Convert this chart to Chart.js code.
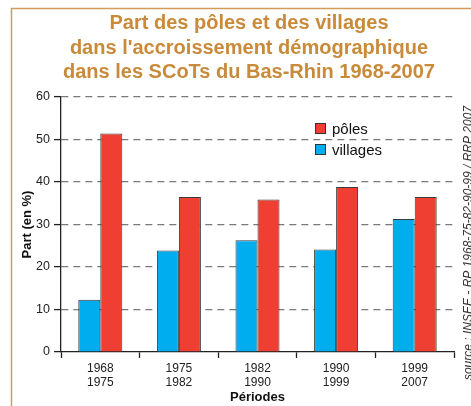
<!DOCTYPE html>
<html><head><meta charset="utf-8">
<script src="https://cdn.jsdelivr.net/npm/chart.js@4/dist/chart.umd.min.js"></script>
<style>html,body{margin:0;padding:0;background:#fff;}#wrap{position:relative;width:471px;height:406px;}</style>
</head><body><div id="wrap"><canvas id="c" width="471" height="406"></canvas></div>
<script>
const categories = [['1968','1975'],['1975','1982'],['1982','1990'],['1990','1999'],['1999','2007']];
const villages = [12.3, 23.9, 26.3, 24.1, 31.3];
const poles = [51.4, 36.5, 35.9, 38.8, 36.5];
const yTicks = [0, 10, 20, 30, 40, 50, 60];
const seriesNames = ['villages', 'pôles'];
const titleLines = ['Part des pôles et des villages', "dans l'accroissement démographique", 'dans les SCoTs du Bas-Rhin 1968-2007'];
const yTitle = 'Part (en %)';
const xTitle = 'Périodes';
const sourceText = 'source : INSEE - RP 1968-75-82-90-99 / RRP 2007';

const FONT = "'Liberation Sans', Arial, Helvetica, sans-serif";
const TITLE_COLOR = '#c98a3a';

const decor = {
  id: 'decor',
  beforeDraw(chart) {
    const ctx = chart.ctx;
    ctx.save();
    ctx.fillStyle = '#fff';
    ctx.fillRect(0, 0, chart.width, chart.height);
    ctx.strokeStyle = '#d29b57';
    ctx.lineWidth = 1.5;
    ctx.beginPath();
    ctx.moveTo(11.5, chart.height);
    ctx.lineTo(11.5, 8.5);
    ctx.lineTo(chart.width, 8.5);
    ctx.stroke();
    // title
    ctx.fillStyle = TITLE_COLOR;
    ctx.font = 'bold 20px ' + FONT;
    ctx.textAlign = 'center';
    ctx.textBaseline = 'alphabetic';
    const baselines = [29, 54, 78];
    titleLines.forEach((t, i) => ctx.fillText(t, 249, baselines[i]));
    // source
    ctx.save();
    ctx.translate(469, 243);
    ctx.rotate(-Math.PI / 2);
    ctx.fillStyle = '#333';
    ctx.font = 'italic 12px ' + FONT;
    ctx.textAlign = 'center';
    ctx.textBaseline = 'middle';
    ctx.fillText(sourceText, 0, 0);
    ctx.restore();
    ctx.restore();
  },
  afterDraw(chart) {
    const ctx = chart.ctx;
    ctx.save();
    ctx.font = '15px ' + FONT;
    ctx.textBaseline = 'middle';
    ctx.textAlign = 'left';
    const ds = chart.data.datasets.slice().reverse();
    ds.forEach((d, i) => {
      const y = 128.5 + i * 21;
      ctx.fillStyle = d.backgroundColor;
      ctx.fillRect(316, y - 4.5, 9, 9);
      ctx.strokeStyle = '#333';
      ctx.lineWidth = 1;
      ctx.strokeRect(315.5, y - 5, 10, 10);
      ctx.fillStyle = '#111';
      ctx.fillText(d.label, 332, y + 1);
    });
    ctx.restore();
  }
};

new Chart(document.getElementById('c'), {
  type: 'bar',
  data: {
    labels: categories,
    datasets: [
      { label: seriesNames[0], data: villages, backgroundColor: '#00aeef', borderColor: '#3a3a3a', borderWidth: 1, categoryPercentage: 0.56, barPercentage: 1.0 },
      { label: seriesNames[1], data: poles, backgroundColor: '#ef3f32', borderColor: '#3a3a3a', borderWidth: 1, categoryPercentage: 0.56, barPercentage: 1.0 }
    ]
  },
  options: {
    responsive: false,
    animation: false,
    devicePixelRatio: 1,
    layout: { padding: { left: 12, right: 17, top: 97, bottom: 0 } },
    plugins: { legend: { display: false }, title: { display: false }, tooltip: { enabled: false } },
    scales: {
      x: {
        grid: { offset: true, drawOnChartArea: false, tickLength: 6, tickColor: '#222', tickWidth: 1.3 },
        border: { color: '#222', width: 1.3 },
        ticks: { color: '#222', font: { family: FONT, size: 12 }, padding: 3, maxRotation: 0 },
        title: { display: true, text: xTitle, color: '#111', font: { family: FONT, size: 13, weight: 'bold' }, padding: { top: 0, bottom: 1 } },
        afterFit(s) { s.height = 54; }
      },
      y: {
        min: yTicks[0], max: yTicks[yTicks.length - 1],
        ticks: { stepSize: yTicks[1] - yTicks[0], color: '#222', font: { family: FONT, size: 12.5 }, padding: 4 },
        grid: { color: c => c.tick && c.tick.value === 0 ? 'rgba(0,0,0,0)' : '#7a7a7a', lineWidth: 1.2, tickLength: 7, tickColor: '#222', tickWidth: 1.3, tickBorderDash: [] },
        border: { color: '#222', width: 1.3, dash: [7, 5] },
        title: { display: true, text: yTitle, color: '#111', font: { family: FONT, size: 13, weight: 'bold' }, padding: { top: 8, bottom: 0 } },
        afterFit(s) { s.width = 49; }
      }
    }
  },
  plugins: [decor]
});
</script></body></html>
